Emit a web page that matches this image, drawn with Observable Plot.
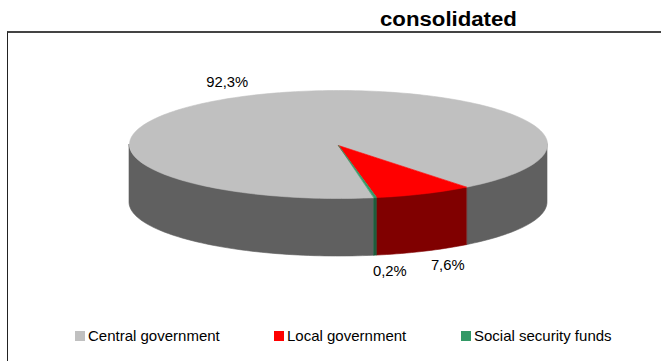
<!DOCTYPE html>
<html>
<head>
<meta charset="utf-8">
<script src="https://cdn.jsdelivr.net/npm/d3@7"></script>
<script src="https://cdn.jsdelivr.net/npm/@observablehq/plot@0.6"></script>
<style>
  html, body { margin: 0; padding: 0; background: #fff; }
  body { width: 661px; height: 361px; overflow: hidden; font-family: "Liberation Sans", Arial, sans-serif; color: #000; }
  #title { height: 31px; position: relative; }
  #title span { position: absolute; left: 380px; top: 8px; font-size: 20px; font-weight: bold; line-height: 23px; white-space: nowrap; transform: scaleX(1.11); transform-origin: left center; }
  #frame { position: relative; margin-left: 7px; height: 330px; border-left: 1px solid #222; border-top: 2px solid #444; box-sizing: border-box; }
  #frame svg { position: absolute; left: 0; top: 0; overflow: visible; }
  .key { position: absolute; top: 293px; display: flex; align-items: center; font-size: 15px; line-height: 20px; white-space: nowrap; }
  .key i { display: block; width: 10px; height: 10px; margin-right: 3px; }
</style>
</head>
<body>
<div id="title"><span></span></div>
<div id="frame"></div>
<script>
// Shares of consolidated debt by government level
const chartTitle = "consolidated";
const sectors = ["Central government", "Local government", "Social security funds"];
const shares = [92.3, 7.6, 0.2];
const shareLabels = ["92,3%", "7,6%", "0,2%"];
const topColors = ["#c0c0c0", "#ff0000", "#339966"];
const sideColors = ["#606060", "#800000", "#1f5c3d"];
const labelNudgeX = [-4, 0.5, 4.5];
const labelNudgeY = [0, 0, 1];

// Pie layout: clockwise degrees from east; thickness is in units of the vertical radius
const firstSliceAngle = 80.2;
const thickness = 58 / 54;
const labelRadius = 1.27;
const apexDrop = 1 / 54;

const total = d3.sum(shares);
let cursor = firstSliceAngle;
const slices = sectors.map((name, i) => {
  const start = cursor;
  cursor += (shares[i] / total) * 360;
  return {name, i, start, end: cursor, mid: (start + cursor) / 2};
});

const rad = (deg) => (deg * Math.PI) / 180;
const rim = (deg) => ({px: Math.cos(rad(deg)), py: Math.sin(rad(deg))});
const sweep = (a, b) => {
  const n = Math.max(2, Math.ceil((b - a) / 1.5));
  return d3.range(n + 1).map((k) => a + ((b - a) * k) / n);
};

// Flat top of each slice: centre, then around the rim
const faces = slices.flatMap((s) =>
  [{px: 0, py: apexDrop, i: s.i}, ...sweep(s.start, s.end).map((a) => ({...rim(a), i: s.i}))]
);

// Outer wall: only the parts of a slice that face the viewer (0 to 180 degrees, modulo a turn)
const walls = slices.flatMap((s) =>
  [0, 360].flatMap((turn) => {
    const a = Math.max(s.start, turn);
    const b = Math.min(s.end, turn + 180);
    return a < b ? sweep(a, b).map((d) => ({...rim(d), i: s.i, part: `${s.i}-${turn}`})) : [];
  })
);

const labels = slices.map((s) => {
  const p = rim(s.mid);
  return {
    text: shareLabels[s.i],
    px: p.px * labelRadius + labelNudgeX[s.i] / 209,
    py: p.py * labelRadius + (p.py > 0 ? thickness : 0) + labelNudgeY[s.i] / 54
  };
});

const chart = Plot.plot({
  width: 653,
  height: 288,
  margin: 0,
  axis: null,
  x: {type: "linear", domain: [-1, 1], range: [121, 539]},
  y: {type: "linear", domain: [-1, 1], range: [57, 165]},
  marks: [
    Plot.areaY(walls, {
      x: "px",
      y1: "py",
      y2: (d) => d.py + thickness,
      z: "part",
      fill: (d) => sideColors[d.i],
      stroke: (d) => sideColors[d.i],
      strokeWidth: 0.6,
      curve: "linear"
    }),
    Plot.line(faces, {
      x: "px",
      y: "py",
      z: "i",
      fill: (d) => topColors[d.i],
      stroke: (d) => topColors[d.i],
      strokeWidth: 0.6,
      curve: "linear-closed"
    }),
    Plot.text(labels, {
      x: "px",
      y: "py",
      text: "text",
      fontSize: 14.8,
      fontFamily: "Liberation Sans, Arial, sans-serif",
      fill: "#000"
    })
  ]
});

document.querySelector("#title span").textContent = chartTitle;
const frame = document.getElementById("frame");
frame.appendChild(chart);

const keyOffsets = [67, 266, 453];
sectors.forEach((name, i) => {
  const key = document.createElement("div");
  key.className = "key";
  key.style.left = keyOffsets[i] + "px";
  const swatch = document.createElement("i");
  swatch.style.background = topColors[i];
  key.appendChild(swatch);
  key.appendChild(document.createTextNode(name));
  frame.appendChild(key);
});
</script>
</body>
</html>
